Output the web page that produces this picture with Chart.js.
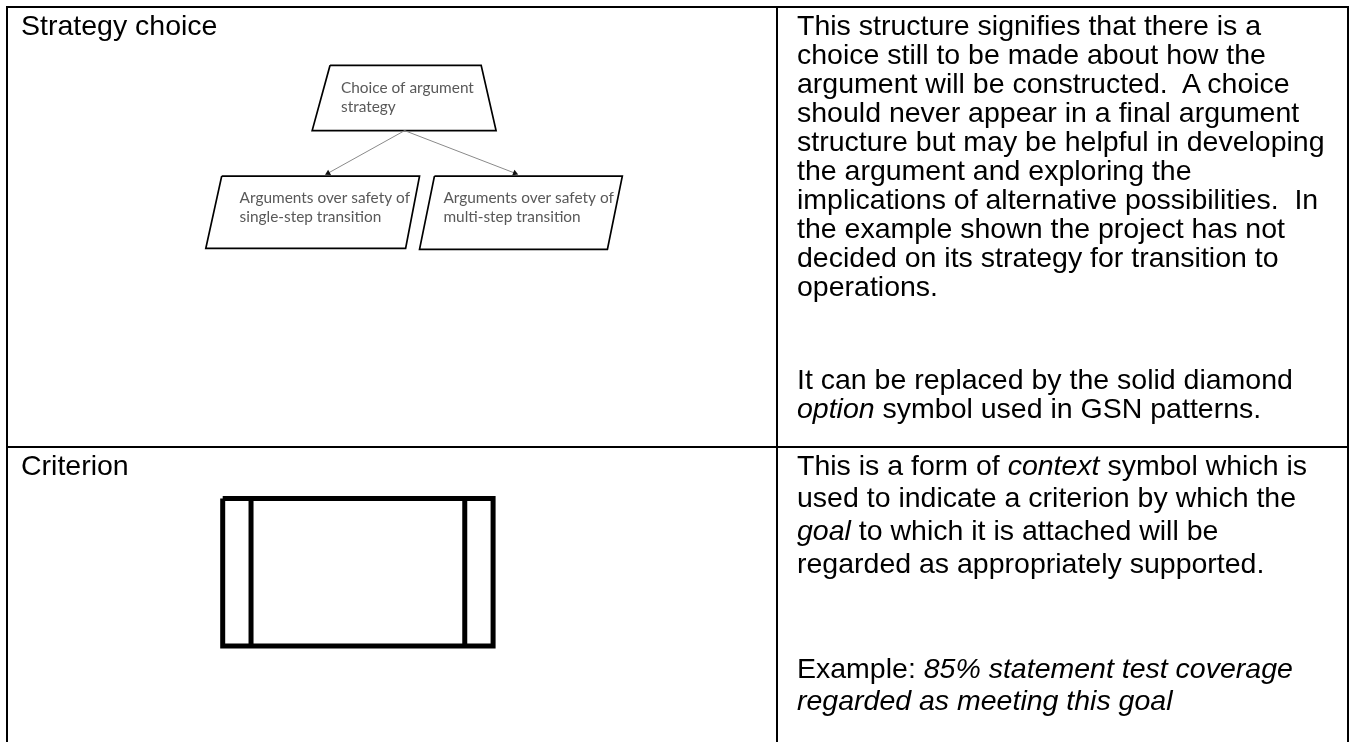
<!DOCTYPE html>
<html>
<head>
<meta charset="utf-8">
<title>Strategy choice / Criterion</title>
<script src="https://cdn.jsdelivr.net/npm/chart.js"></script>
<style>
html, body { margin: 0; padding: 0; background: #fff; }
body {
    width: 1353px; height: 742px; position: relative; overflow: hidden;
    font-family: "Liberation Sans", Arial, sans-serif; color: #000;
}
.rule { position: absolute; background: #000; }
.txt { position: absolute; font-size: 28.5px; white-space: nowrap; }
.txt p { margin: 0; }
.row1 { line-height: 29px; }
.row2 { line-height: 32.8px; }
#diagram { position: absolute; left: 0; top: 0; }
</style>
</head>
<body>
<canvas id="diagram" width="1353" height="742"></canvas>

<!-- table rules -->
<div class="rule" style="left:6px; top:6px; width:1343px; height:2px"></div>
<div class="rule" style="left:6px; top:6px; width:2px; height:736px"></div>
<div class="rule" style="left:776px; top:6px; width:2px; height:736px"></div>
<div class="rule" style="left:1347px; top:6px; width:2px; height:736px"></div>
<div class="rule" style="left:6px; top:446px; width:1343px; height:2px"></div>

<!-- row 1 -->
<div class="txt row1" style="left:21px; top:10.6px">Strategy choice</div>
<div class="txt row1" style="left:797px; top:10.6px">
    <p>This structure signifies that there is a<br>
    choice still to be made about how the<br>
    argument will be constructed.&nbsp; A choice<br>
    should never appear in a final argument<br>
    structure but may be helpful in developing<br>
    the argument and exploring the<br>
    implications of alternative possibilities.&nbsp; In<br>
    the example shown the project has not<br>
    decided on its strategy for transition to<br>
    operations.</p>
    <p style="margin-top:64px">It can be replaced by the solid diamond<br>
    <i>option</i> symbol used in GSN patterns.</p>
</div>

<!-- row 2 -->
<div class="txt row2" style="left:21px; top:448.7px">Criterion</div>
<div class="txt row2" style="left:797px; top:448.7px">
    <p>This is a form of <i>context</i> symbol which is<br>
    used to indicate a criterion by which the<br>
    <i>goal</i> to which it is attached will be<br>
    regarded as appropriately supported.</p>
    <p style="margin-top:71.8px">Example: <i>85% statement test coverage<br>
    regarded as meeting this goal</i></p>
</div>

<script>
// Diagram geometry, in page units (x to the right, y downwards)
const choiceNode = [[328, 62], [480, 62], [495, 128], [310, 128], [328, 62]];
const singleStepNode = [[219, 174], [418, 174], [404, 247], [203, 247], [219, 174]];
const multiStepNode = [[433, 174], [622, 174], [607, 248], [418, 248], [433, 174]];
const links = [
    [[403, 128], [326, 171]],
    [[403, 128], [514, 171]]
];
const criterionBox = [[220, 500], [492, 500], [492, 649], [220, 649], [220, 500]];
const criterionBars = [
    [[248.5, 500], [248.5, 649]],
    [[463.5, 500], [463.5, 649]]
];

// Node captions and where their first line sits
const nodeText = [
    ['Choice of argument', 'strategy'],
    ['Arguments over safety of', 'single-step transition'],
    ['Arguments over safety of', 'multi-step transition']
];
const nodeTextAt = [[339, 90], [237, 201], [442, 201]];

const toPoints = arr => arr.map(([x, y]) => ({ x: x, y: y }));

function outline(pts, width) {
    return {
        data: toPoints(pts),
        showLine: true,
        borderColor: '#000',
        borderWidth: width,
        borderJoinStyle: 'miter',
        pointRadius: 0,
        tension: 0,
        fill: false
    };
}

function arrow(pts) {
    const [a, b] = pts;
    // triangle points up by default, turn it along the link
    const angle = Math.atan2(b[0] - a[0], -(b[1] - a[1])) * 180 / Math.PI;
    return {
        data: toPoints(pts),
        showLine: true,
        borderColor: '#8a8a8a',
        borderWidth: 1,
        pointStyle: 'triangle',
        pointRadius: [0, 3.5],
        pointRotation: [0, angle],
        pointBackgroundColor: '#111',
        pointBorderColor: '#111',
        pointBorderWidth: 0,
        tension: 0
    };
}

const nodeLabels = {
    id: 'nodeLabels',
    afterDatasetsDraw(chart) {
        const { ctx, scales: { x, y } } = chart;
        ctx.save();
        ctx.font = '15.4px Lato';
        ctx.fillStyle = '#595959';
        ctx.textBaseline = 'alphabetic';
        nodeText.forEach((lines, i) => {
            const [px, py] = nodeTextAt[i];
            lines.forEach((line, j) => {
                ctx.fillText(line, x.getPixelForValue(px), y.getPixelForValue(py + j * 19));
            });
        });
        ctx.restore();
    }
};

function drawDiagram() {
    const datasets = [
        ...links.map(arrow),
        outline(choiceNode, 1.7),
        outline(singleStepNode, 1.7),
        outline(multiStepNode, 1.7),
        outline(criterionBox, 5),
        ...criterionBars.map(b => outline(b, 5))
    ];

    new Chart(document.getElementById('diagram'), {
        type: 'scatter',
        data: { datasets: datasets },
        options: {
            responsive: false,
            animation: false,
            devicePixelRatio: 1,
            layout: { padding: 0 },
            plugins: {
                legend: { display: false },
                tooltip: { enabled: false }
            },
            scales: {
                x: { type: 'linear', min: 0, max: 1353, display: false },
                y: { type: 'linear', min: 0, max: 742, reverse: true, display: false }
            }
        },
        plugins: [nodeLabels]
    });
}

document.fonts.load('15.4px Lato').then(drawDiagram, drawDiagram);
</script>
</body>
</html>
